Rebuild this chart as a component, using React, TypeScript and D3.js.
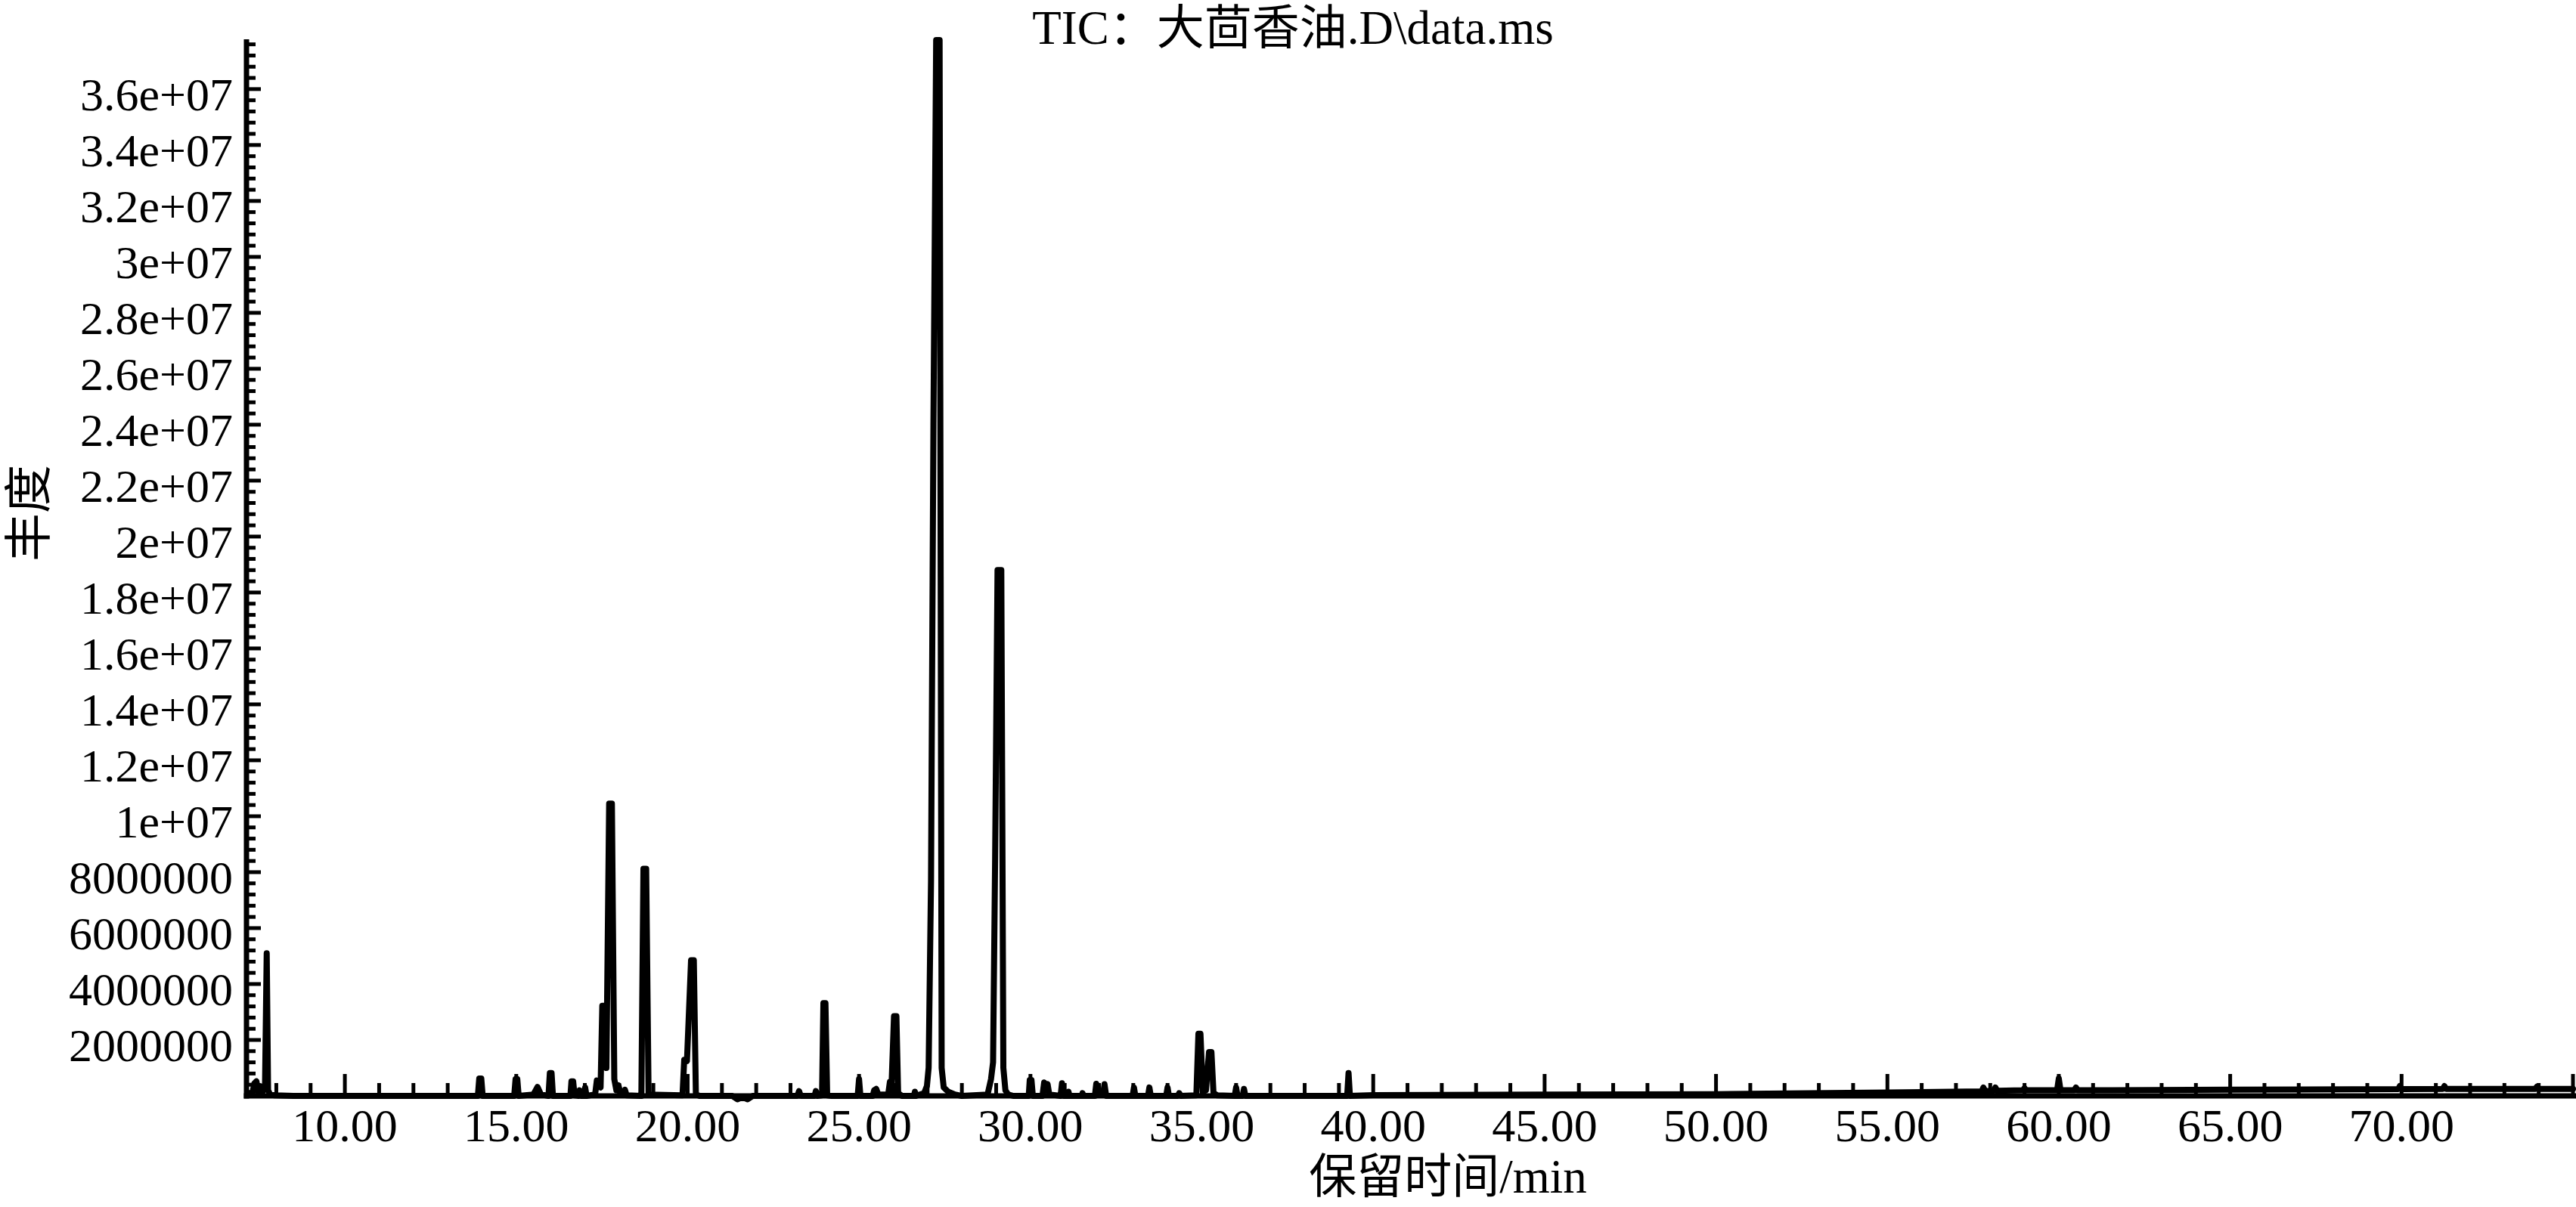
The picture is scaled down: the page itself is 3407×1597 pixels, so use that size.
import React from "react";
import * as d3 from "d3";

const W = 3407;
const H = 1597;

const TITLE = "TIC：大茴香油.D\\data.ms";
const X_LABEL = "保留时间/min";
const Y_LABEL = "丰度";

const xMajorTicks = [10, 15, 20, 25, 30, 35, 40, 45, 50, 55, 60, 65, 70, 75];
const xTickLabels = ["10.00", "15.00", "20.00", "25.00", "30.00", "35.00", "40.00", "45.00", "50.00", "55.00", "60.00", "65.00", "70.00", ""];

const yMajorTicks = [2e6, 4e6, 6e6, 8e6, 1e7, 1.2e7, 1.4e7, 1.6e7, 1.8e7, 2e7, 2.2e7, 2.4e7, 2.6e7, 2.8e7, 3e7, 3.2e7, 3.4e7, 3.6e7];
const yTickLabels = ["2000000", "4000000", "6000000", "8000000", "1e+07", "1.2e+07", "1.4e+07", "1.6e+07", "1.8e+07", "2e+07", "2.2e+07", "2.4e+07", "2.6e+07", "2.8e+07", "3e+07", "3.2e+07", "3.4e+07", "3.6e+07"];

// retention time (min)
const rt = [
  7.2, 7.3, 7.36, 7.42, 7.47, 7.53, 7.58, 7.67, 7.72, 7.76, 7.82, 7.95, 8.5,
  13.88, 13.92, 13.98, 14.02, 14.94, 14.98, 15.03, 15.07, 15.5, 15.62, 15.72,
  15.94, 15.98, 16.03, 16.07, 16.58, 16.61, 16.66, 16.7, 16.82, 16.85, 16.89,
  16.98, 17.01, 17.05, 17.3, 17.35, 17.4, 17.46, 17.51, 17.57, 17.63, 17.71, 17.79,
  17.86, 17.92, 17.98, 18.04, 18.12, 18.17, 18.22, 18.65, 18.71, 18.79, 18.86,
  19.85, 19.9, 19.98, 20.1, 20.18, 20.24, 20.35, 21.3, 21.45, 21.6, 21.75, 21.9,
  23.2, 23.25, 23.3, 23.7, 23.74, 23.78, 23.92, 23.96, 24.02, 24.07, 24.2,
  24.96, 25.0, 25.04, 25.4, 25.44, 25.5, 25.56, 25.85, 25.9, 25.95, 26.02, 26.09,
  26.14, 26.25, 26.6, 26.63, 26.66, 26.9, 26.98, 27.03, 27.1, 27.17, 27.25, 27.35,
  27.41, 27.47, 27.6, 27.8, 28.0, 28.75, 28.85, 28.91, 28.97, 29.04, 29.15, 29.21,
  29.27, 29.35, 29.5, 29.95, 29.98, 30.03, 30.07, 30.35, 30.4, 30.45, 30.5, 30.55,
  30.88, 30.92, 30.97, 31.08, 31.11, 31.14, 31.5, 31.52, 31.54, 31.88, 31.92, 31.97,
  32.12, 32.16, 32.21, 32.98, 33.02, 33.06, 33.43, 33.47, 33.51, 33.96, 34.0, 34.04,
  34.3, 34.34, 34.38, 34.84, 34.9, 34.96, 35.03, 35.12, 35.21, 35.28, 35.34, 35.45,
  35.96, 36.0, 36.04, 36.19, 36.23, 36.27, 39.24, 39.28, 39.32, 40.0, 45.0, 50.0,
  55.0, 57.75, 57.8, 57.85, 58.1, 58.15, 58.2, 58.95, 59.0, 59.05, 59.95, 60.0,
  60.05, 60.45, 60.5, 60.55, 65.0, 69.9, 69.95, 70.0, 71.2, 71.25, 71.3, 73.9,
  73.95, 74.0, 75.0,
];

// total ion current abundance
const tic = [
  0.1e6, 0.08e6, 0.45e6, 0.52e6, 0.15e6, 0.35e6, 0.1e6, 0.3e6, 5.1e6, 0.2e6, 0.05e6, 0.02e6, 0,
  0, 0.62e6, 0.62e6, 0, 0, 0.6e6, 0.6e6, 0, 0.05e6, 0.32e6, 0.05e6,
  0, 0.82e6, 0.82e6, 0, 0, 0.52e6, 0.52e6, 0.02e6, 0, 0.2e6, 0,
  0, 0.3e6, 0, 0.05e6, 0.55e6, 0.5e6, 0.3e6, 3.22e6, 3.22e6, 1.0e6, 10.45e6, 10.45e6,
  0.6e6, 0.2e6, 0.38e6, 0.08e6, 0.05e6, 0.22e6, 0.02e6, 0, 8.12e6, 8.12e6, 0.05e6,
  0.02e6, 1.29e6, 1.25e6, 4.85e6, 4.85e6, 0.05e6, 0, 0, -0.12e6, -0.05e6, -0.12e6, 0,
  0, 0.17e6, 0, 0, 0.17e6, 0, 0.02e6, 3.32e6, 3.32e6, 0.02e6, 0,
  0, 0.6e6, 0, 0, 0.2e6, 0.25e6, 0.05e6, 0.05e6, 0.5e6, 0.45e6, 2.85e6, 2.85e6,
  0.1e6, 0, 0, 0.15e6, 0, 0.1e6, 0.35e6, 1.0e6, 7.7e6, 24.0e6, 37.75e6, 37.75e6,
  1.0e6, 0.3e6, 0.15e6, 0.05e6, 0, 0.05e6, 0.6e6, 1.2e6, 8.5e6, 18.8e6, 18.8e6, 1.0e6,
  0.2e6, 0.05e6, 0, 0, 0.57e6, 0.57e6, 0, 0, 0.48e6, 0.2e6, 0.42e6, 0.05e6,
  0, 0.45e6, 0, 0, 0.15e6, 0, 0, 0.1e6, 0, 0, 0.43e6, 0.05e6,
  0.05e6, 0.42e6, 0, 0, 0.3e6, 0, 0, 0.3e6, 0, 0, 0.3e6, 0,
  0, 0.1e6, 0, 0.02e6, 2.22e6, 2.22e6, 0.15e6, 0.2e6, 1.57e6, 1.57e6, 0.1e6, 0.02e6,
  0, 0.3e6, 0, 0, 0.25e6, 0, 0, 0.82e6, 0, 0.03e6, 0.05e6, 0.06e6,
  0.12e6, 0.16e6, 0.3e6, 0.17e6, 0.18e6, 0.3e6, 0.18e6, 0.2e6, 0.28e6, 0.2e6, 0.2e6, 0.62e6,
  0.2e6, 0.2e6, 0.3e6, 0.2e6, 0.22e6, 0.24e6, 0.35e6, 0.24e6, 0.25e6, 0.35e6, 0.25e6, 0.25e6,
  0.33e6, 0.25e6, 0.25e6,
];

const FONT = "'Liberation Serif', 'Times New Roman', 'Noto Sans CJK SC', serif";

export default function App() {
  const x = d3.scaleLinear().domain([7.13, 75]).range([326, 3403]);
  const y = d3.scaleLinear().domain([0, 37.78e6]).range([1450, 52]);

  const pts: [number, number][] = rt.map((t, i) => [t, tic[i]]);
  const line = d3
    .line<[number, number]>()
    .x((d) => x(d[0]))
    .y((d) => y(d[1]));

  const xMinor = d3.range(8, 75, 1).filter((v) => v % 5 !== 0);
  const yMinor = d3
    .range(1, 95)
    .filter((i) => i % 5 !== 0)
    .map((i) => i * 0.4e6);

  const x0 = x.range()[0];
  const y0 = y.range()[0];

  return (
    <svg
      width={W}
      height={H}
      viewBox={`0 0 ${W} ${H}`}
      style={{ position: "absolute", left: 0, top: 0, background: "#fff" }}
    >
      <rect x={0} y={0} width={W} height={H} fill="#fff" />
      {/* trace */}
      <path
        d={line(pts) || ""}
        fill="none"
        stroke="#000"
        strokeWidth={8}
        strokeLinejoin="round"
        strokeLinecap="round"
      />
      {/* axes */}
      <line x1={x0} x2={x0} y1={y.range()[1]} y2={y0 + 3.5} stroke="#000" strokeWidth={7} />
      <line x1={x0 - 3.5} x2={W} y1={y0} y2={y0} stroke="#000" strokeWidth={7} />
      {/* y ticks */}
      {yMajorTicks.map((v) => (
        <line key={"ym" + v} x1={x0} x2={x0 + 19} y1={y(v)} y2={y(v)} stroke="#000" strokeWidth={5} />
      ))}
      {yMinor.map((v) => (
        <line key={"yn" + v} x1={x0} x2={x0 + 12} y1={y(v)} y2={y(v)} stroke="#000" strokeWidth={5} />
      ))}
      {yMajorTicks.map((v, i) => (
        <text
          key={"yl" + v}
          x={308}
          y={y(v) + 28}
          textAnchor="end"
          fontFamily={FONT}
          fontSize={62}
          fill="#000"
        >
          {yTickLabels[i]}
        </text>
      ))}
      {/* x ticks */}
      {xMajorTicks.map((v) => (
        <line key={"xm" + v} x1={x(v)} x2={x(v)} y1={y0} y2={y0 - 29} stroke="#000" strokeWidth={5} />
      ))}
      {xMinor.map((v) => (
        <line key={"xn" + v} x1={x(v)} x2={x(v)} y1={y0} y2={y0 - 17} stroke="#000" strokeWidth={5} />
      ))}
      {xMajorTicks.map((v, i) => (
        <text
          key={"xl" + v}
          x={x(v)}
          y={1510}
          textAnchor="middle"
          fontFamily={FONT}
          fontSize={62}
          fill="#000"
        >
          {xTickLabels[i]}
        </text>
      ))}
      {/* title and axis labels */}
      <text x={1710} y={58} textAnchor="middle" fontFamily={FONT} fontSize={63} fill="#000">
        {TITLE}
      </text>
      <text x={1915} y={1578} textAnchor="middle" fontFamily={FONT} fontSize={63} fill="#000">
        {X_LABEL}
      </text>
      <text
        transform="translate(38,679) rotate(-90)"
        textAnchor="middle"
        dominantBaseline="central"
        fontFamily={FONT}
        fontSize={64}
        fill="#000"
      >
        {Y_LABEL}
      </text>
    </svg>
  );
}
